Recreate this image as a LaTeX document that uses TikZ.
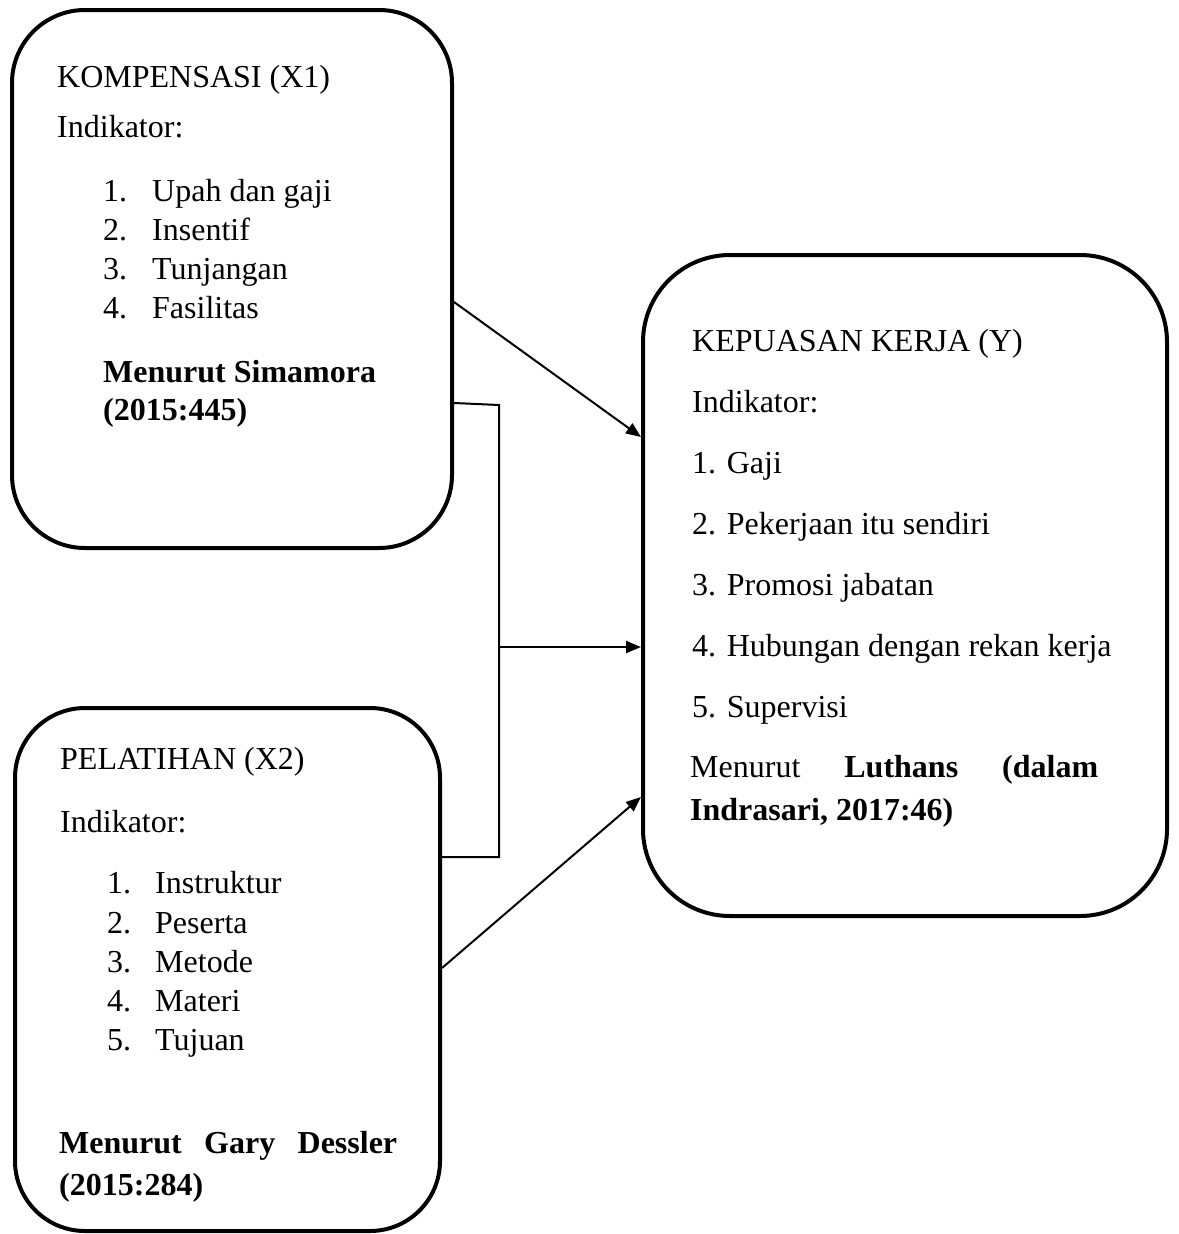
\documentclass[tikz,border=0pt]{standalone}
\usepackage{fontspec}
\setmainfont{Liberation Serif}
\usetikzlibrary{arrows.meta}
\begin{document}
\begin{tikzpicture}[x=1pt,y=-1pt,
  box/.style={draw,line width=4pt,rounded corners=#1,inner sep=0pt},
  txt/.style={anchor=base west,inner sep=0pt,font=\fontsize{32}{38}\selectfont},
  conn/.style={line width=2pt},
  arr/.style={line width=2pt,-{Triangle[length=15pt,width=12pt]}}]
\useasboundingbox (0,0) rectangle (1178,1234);
% boxes
\node[box=73pt,minimum width=440pt,minimum height=538pt] (b1) at (232,279) {};
\node[box=70pt,minimum width=425pt,minimum height=523pt] (b2) at (227.5,969.5) {};
\node[box=87pt,minimum width=524pt,minimum height=661pt] (b3) at (905,585.5) {};
% box 1 text
\node[txt] (t1) at (57,87) {KOMPENSASI (X1)};
\node[txt] (i1) at (57,137) {Indikator:};
\node[txt] (n11) at (103,201) {1.};\node[txt] (l11) at (152,201) {Upah dan gaji};
\node[txt] (n12) at (103,240) {2.};\node[txt] (l12) at (152,240) {Insentif};
\node[txt] (n13) at (103,279) {3.};\node[txt] (l13) at (152,279) {Tunjangan};
\node[txt] (n14) at (103,318) {4.};\node[txt] (l14) at (152,318) {Fasilitas};
\node[txt] (m1) at (103,382) {\textbf{Menurut Simamora}};
\node[txt] (r1) at (103,420) {\textbf{(2015:445)}};
% box 2 text
\node[txt] (t2) at (60,769) {PELATIHAN (X2)};
\node[txt] (i2) at (60,832) {Indikator:};
\node[txt] (n21) at (107,893) {1.};\node[txt] (l21) at (155,893) {Instruktur};
\node[txt] (n22) at (107,933) {2.};\node[txt] (l22) at (155,933) {Peserta};
\node[txt] (n23) at (107,972) {3.};\node[txt] (l23) at (155,972) {Metode};
\node[txt] (n24) at (107,1011) {4.};\node[txt] (l24) at (155,1011) {Materi};
\node[txt] (n25) at (107,1050) {5.};\node[txt] (l25) at (155,1050) {Tujuan};
\node[txt] (m2) at (59,1153) {\makebox[338pt][l]{\textbf{Menurut\hfill Gary\hfill Dessler}}};
\node[txt] (r2) at (59,1195) {\textbf{(2015:284)}};
% box 3 text
\node[txt] (t3) at (692,351) {KEPUASAN KERJA (Y)};
\node[txt] (i3) at (692,412) {Indikator:};
\node[txt] (l31) at (692,473) {1. Gaji};
\node[txt] (l32) at (692,534) {2. Pekerjaan itu sendiri};
\node[txt] (l33) at (692,595) {3. Promosi jabatan};
\node[txt] (l34) at (692,656) {4. Hubungan dengan rekan kerja};
\node[txt] (l35) at (692,717) {5. Supervisi};
\node[txt] (m3) at (690,777) {\makebox[408pt][l]{Menurut\hfill\textbf{Luthans}\hfill\textbf{(dalam}}};
\node[txt] (r3) at (690,820) {\textbf{Indrasari, 2017:46)}};
% connector points
\coordinate (ya) at (0,302);
\coordinate (yb) at (0,437);
\coordinate (yc) at (0,403);
\coordinate (jt) at (499,405);
\coordinate (jm) at (499,647);
\coordinate (jb) at (499,857);
\coordinate (yd) at (0,968);
\coordinate (ye) at (0,797);
% connectors
\draw[arr] (b1.east |- ya) -- (b3.west |- yb);
\draw[conn] (b1.east |- yc) -- (jt) -- (jb) -- (b2.east |- jb);
\draw[arr] (jm) -- (b3.west |- jm);
\draw[arr] (b2.east |- yd) -- (b3.west |- ye);
\end{tikzpicture}
\end{document}
